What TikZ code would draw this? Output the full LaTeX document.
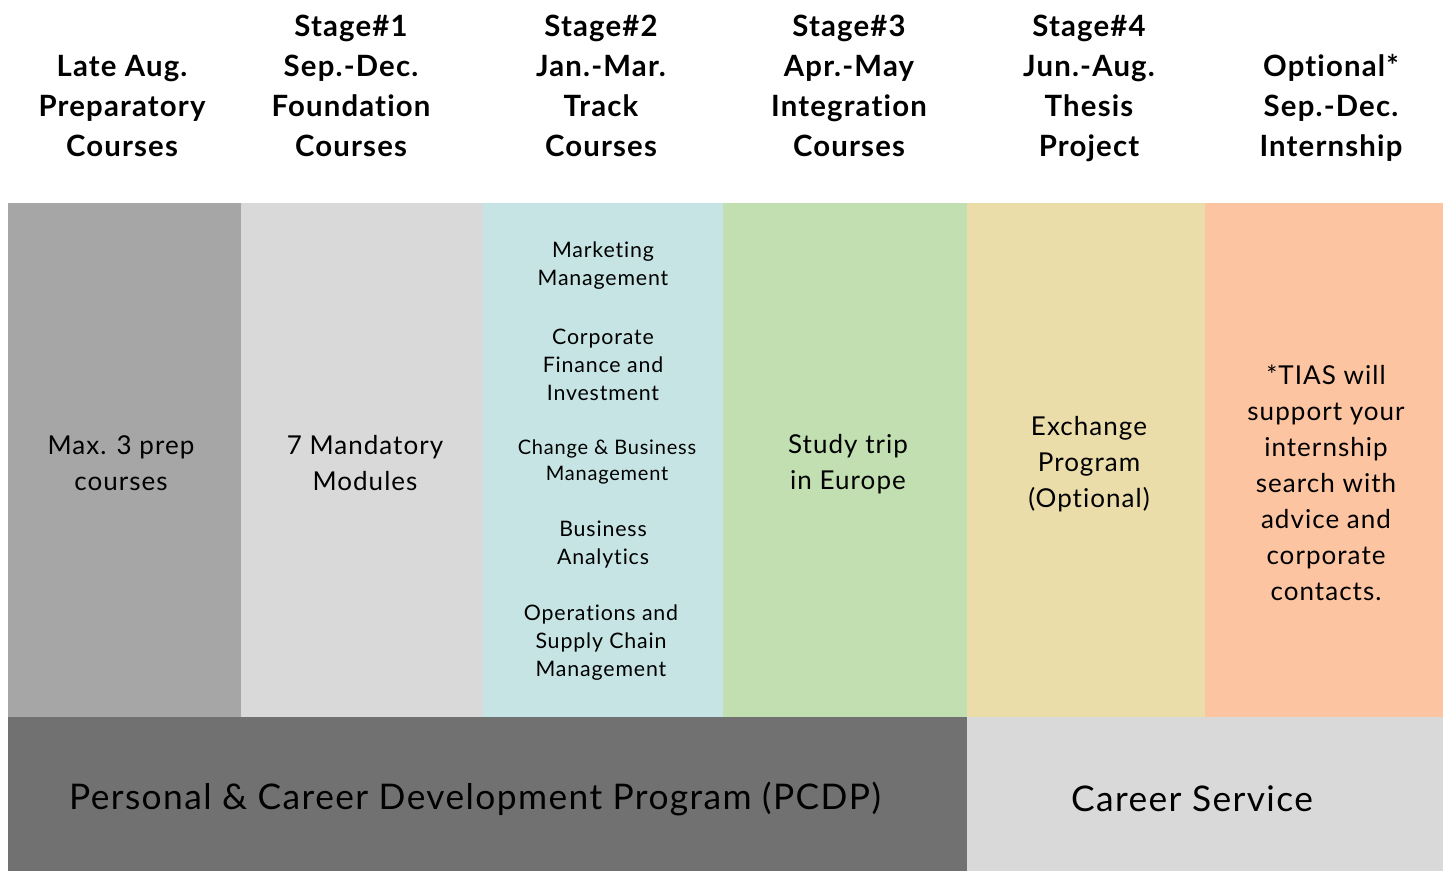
\documentclass[tikz,border=0pt]{standalone}
\usepackage{fontspec}
\setmainfont{Lato}[LetterSpace=4,Ligatures=CommonOff]
\definecolor{prepgray}{HTML}{A6A6A6}
\definecolor{lightgray}{HTML}{D9D9D9}
\definecolor{trackteal}{HTML}{C5E4E3}
\definecolor{studygreen}{HTML}{C1DFB1}
\definecolor{thesissand}{HTML}{EADDAA}
\definecolor{internpeach}{HTML}{FCC4A0}
\definecolor{pcdpgray}{HTML}{717171}
\begin{document}
\begin{tikzpicture}[x=0.75pt,y=-0.75pt,
  head/.style={font=\bfseries\fontsize{22}{30}\selectfont,align=center,anchor=south,text depth=0pt,inner sep=0pt},
  body/.style={font=\fontsize{19.5}{27}\selectfont,align=center,inner sep=0pt},
  track/.style={font=\fontsize{16}{21}\selectfont,align=center,inner sep=0pt},
  small/.style={font=\fontsize{15}{20}\selectfont,align=center,inner sep=0pt},
  big/.style={font=\fontsize{26.5}{32}\selectfont,inner sep=0pt}]
\useasboundingbox (0,0) rectangle (1448,871);
\fill[white] (0,0) rectangle (1448,871);

% columns
\fill[prepgray] (8,203) rectangle (241,717);
\fill[lightgray] (241,203) rectangle (483,717);
\fill[trackteal] (483,203) rectangle (723,717);
\fill[studygreen] (723,203) rectangle (967,717);
\fill[thesissand] (967,203) rectangle (1205,717);
\fill[internpeach] (1205,203) rectangle (1443,717);
\fill[pcdpgray] (8,717) rectangle (967,871);
\fill[lightgray] (967,717) rectangle (1443,871);

% headings
\node[head] (hprep) at (122,157) {Late Aug.\\Preparatory\\Courses};
\node[head] (hfound) at (351,157) {Stage\#1\\Sep.-Dec.\\Foundation\\Courses};
\node[head] (htrack) at (601,157) {Stage\#2\\Jan.-Mar.\\Track\\Courses};
\node[head] (hinteg) at (849,157) {Stage\#3\\Apr.-May\\Integration\\Courses};
\node[head] (hthesis) at (1089,157) {Stage\#4\\Jun.-Aug.\\Thesis\\Project};
\node[head] (hintern) at (1331,157) {Optional*\\Sep.-Dec.\\Internship};

% column texts
\node[body] (prep) at (121,463) {Max. 3 prep\\courses};
\node[body] (found) at (365,463) {7 Mandatory\\Modules};
\node[track] (mkt) at (603,266) {Marketing\\Management};
\node[track] (fin) at (603,365) {Corporate\\Finance and\\Investment};
\node[small] (chg) at (607,462) {Change \& Business\\Management};
\node[track] (ana) at (603,545) {Business\\Analytics};
\node[track] (ops) at (601,643) {Operations and\\Supply Chain\\Management};
\node[body] (trip) at (848,464) {Study trip\\in Europe};
\node[body] (exch) at (1089,464) {Exchange\\Program\\(Optional)};
\node[body] (tias) at (1326,483) {*TIAS will\\support your\\internship\\search with\\advice and\\corporate\\contacts.};

% bottom bar
\node[big] (pcdp) at (475,799) {Personal \& Career Development Program (PCDP)};
\node[big] (career) at (1192,799) {Career Service};
\end{tikzpicture}
\end{document}
